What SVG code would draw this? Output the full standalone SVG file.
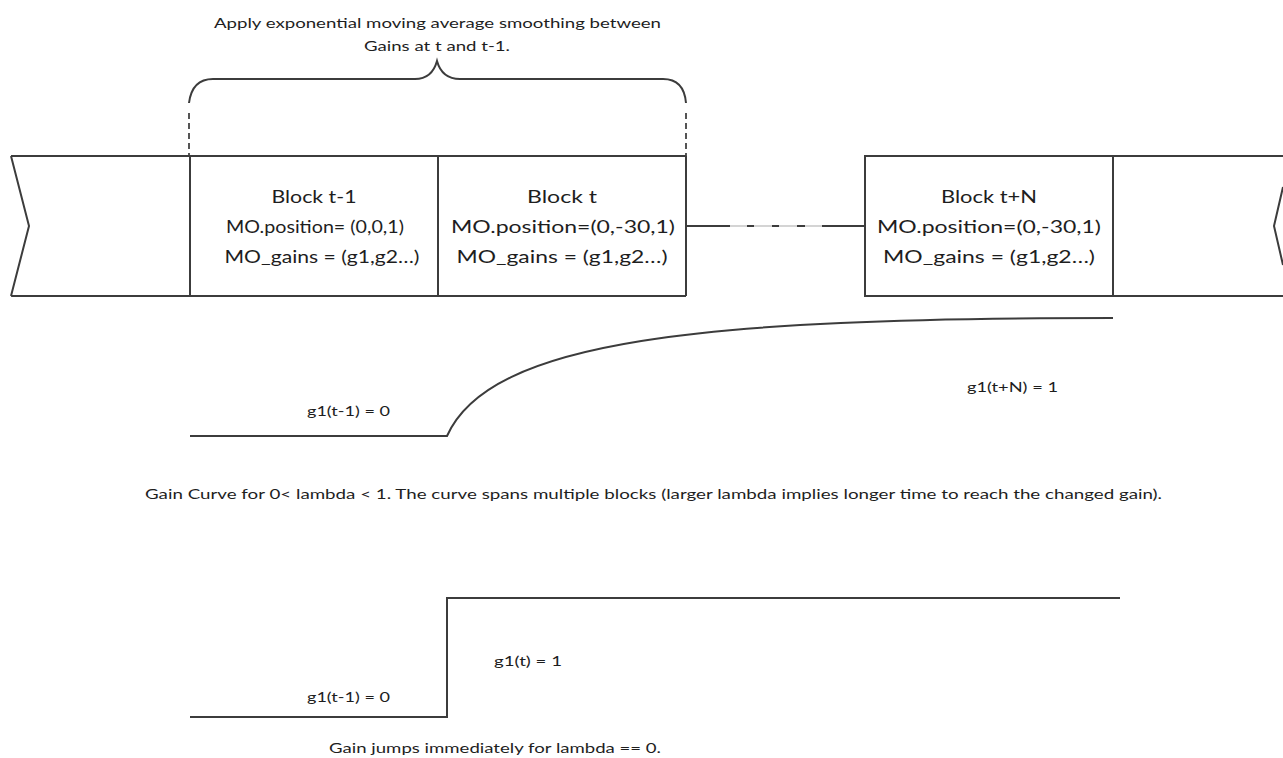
<svg xmlns="http://www.w3.org/2000/svg" width="1283" height="758" viewBox="0 0 1283 758">
  <style>
    .ln { fill: none; stroke: #3c3c3c; stroke-width: 2; }
    .dash { fill: none; stroke: #555; stroke-width: 2; stroke-dasharray: 6 4; }
    .bt { font-family: Lato, "Open Sans", "Liberation Sans", sans-serif; font-size: 18px; fill: #1e1e1e; text-anchor: middle; }
    .sm { font-family: Lato, "Open Sans", "Liberation Sans", sans-serif; font-size: 14px; fill: #1e1e1e; }
  </style>
  <rect width="1283" height="758" fill="#ffffff"/>

  <!-- smoothing bracket and its note -->
  <g id="smoothing-note">
    <text class="sm" x="214" y="28" textLength="447" lengthAdjust="spacingAndGlyphs">Apply exponential moving average smoothing between</text>
    <text class="sm" x="364" y="51" textLength="146" lengthAdjust="spacingAndGlyphs">Gains at t and t-1.</text>
    <path class="ln" d="M189,103 Q192,79 213,79 L415,79 Q432,79 437,61 Q442,79 460,79 L663,79 Q684,79 686,103"/>
    <line class="dash" x1="189" y1="113" x2="189" y2="156"/>
    <line class="dash" x1="686" y1="113" x2="686" y2="156"/>
  </g>

  <!-- block strip, left part -->
  <g id="strip-left">
    <path class="ln" d="M11,156 L686,156 M11,296 L686,296 M11,156 L29,226 L11,296"/>
  </g>

  <g id="block-t-1">
    <line class="ln" x1="190" y1="156" x2="190" y2="296"/>
    <text class="bt" x="314" y="203" textLength="85" lengthAdjust="spacingAndGlyphs">Block t-1</text>
    <text class="bt" x="315" y="233" textLength="178" lengthAdjust="spacingAndGlyphs">MO.position= (0,0,1)</text>
    <text class="bt" x="322" y="263" textLength="195" lengthAdjust="spacingAndGlyphs">MO_gains = (g1,g2…)</text>
  </g>

  <g id="block-t">
    <line class="ln" x1="438" y1="156" x2="438" y2="296"/>
    <line class="ln" x1="686" y1="156" x2="686" y2="296"/>
    <text class="bt" x="562" y="203" textLength="70" lengthAdjust="spacingAndGlyphs">Block t</text>
    <text class="bt" x="563" y="233" textLength="224" lengthAdjust="spacingAndGlyphs">MO.position=(0,-30,1)</text>
    <text class="bt" x="562" y="263" textLength="211" lengthAdjust="spacingAndGlyphs">MO_gains = (g1,g2…)</text>
  </g>

  <g id="block-t-N">
    <rect class="ln" x="865" y="156" width="248" height="140"/>
    <text class="bt" x="989" y="203" textLength="96" lengthAdjust="spacingAndGlyphs">Block t+N</text>
    <text class="bt" x="989" y="233" textLength="224" lengthAdjust="spacingAndGlyphs">MO.position=(0,-30,1)</text>
    <text class="bt" x="989" y="263" textLength="212" lengthAdjust="spacingAndGlyphs">MO_gains = (g1,g2…)</text>
  </g>

  <!-- block strip, right part -->
  <g id="strip-right">
    <path class="ln" d="M1113,156 L1283,156 M1113,296 L1283,296 M1283,187 L1274,226 L1283,265"/>
  </g>

  <!-- link between block t and block t+N (elided blocks) -->
  <g id="connectors">
    <line class="ln" x1="686" y1="226" x2="730" y2="226"/>
    <line x1="730" y1="226" x2="822" y2="226" stroke="#d4d4d4" stroke-width="2"/>
    <path d="M747,226 H754 M772,226 H779 M797,226 H805" stroke="#3c3c3c" stroke-width="2"/>
    <line class="ln" x1="822" y1="226" x2="865" y2="226"/>
  </g>

  <!-- smooth gain curve -->
  <g id="gain-curve">
    <path class="ln" d="M190,436 L447,436 C490,340 700,318 1113,318"/>
    <text class="sm" x="307" y="416" textLength="83" lengthAdjust="spacingAndGlyphs">g1(t-1) = 0</text>
    <text class="sm" x="967" y="392" textLength="91" lengthAdjust="spacingAndGlyphs">g1(t+N) = 1</text>
    <text class="sm" x="145" y="499" textLength="1017" lengthAdjust="spacingAndGlyphs">Gain Curve for 0&lt; lambda &lt; 1. The curve spans multiple blocks (larger lambda implies longer time to reach the changed gain).</text>
  </g>

  <!-- step gain curve -->
  <g id="gain-step">
    <path class="ln" d="M190,717 L447,717 L447,598 L1120,598"/>
    <text class="sm" x="494" y="666" textLength="68" lengthAdjust="spacingAndGlyphs">g1(t) = 1</text>
    <text class="sm" x="307" y="702" textLength="83" lengthAdjust="spacingAndGlyphs">g1(t-1) = 0</text>
    <text class="sm" x="329" y="753" textLength="332" lengthAdjust="spacingAndGlyphs">Gain jumps immediately for lambda == 0.</text>
  </g>
</svg>
